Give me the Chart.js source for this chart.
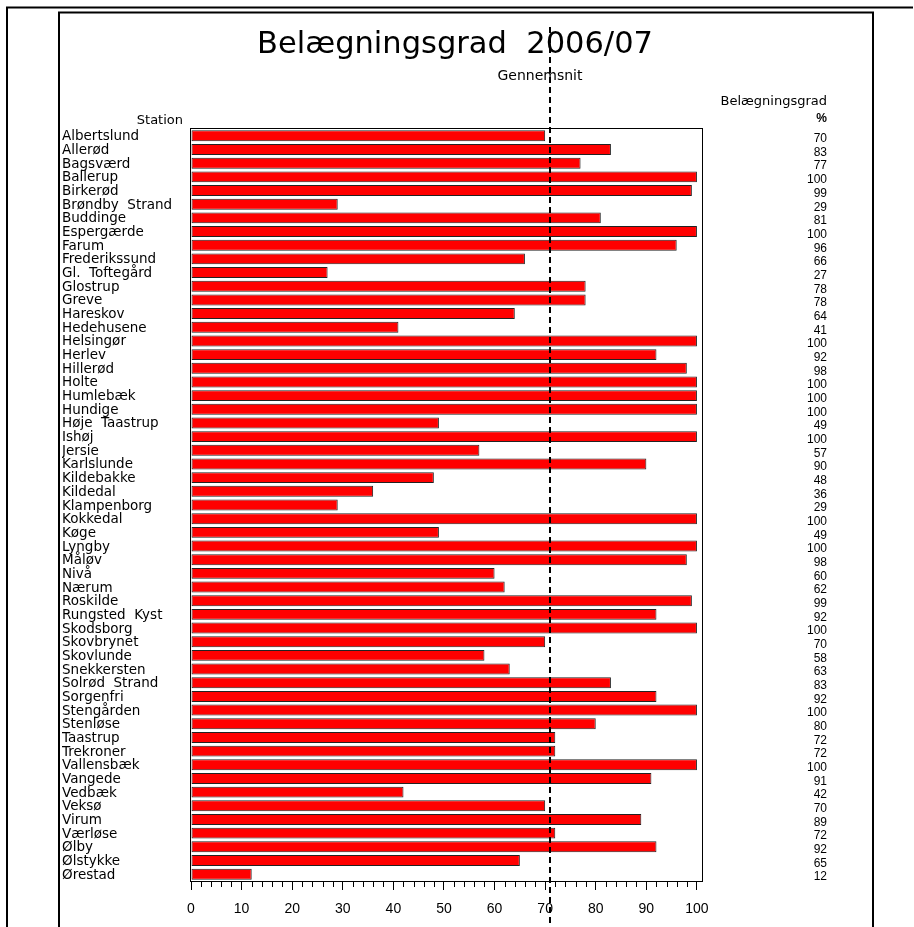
<!DOCTYPE html>
<html>
<head>
<meta charset="utf-8">
<script src="https://cdn.jsdelivr.net/npm/chart.js@4.4.1/dist/chart.umd.min.js"></script>
<style>
  html, body { margin: 0; padding: 0; background: #fff; }
  #wrap { width: 914px; height: 927px; position: relative; }
</style>
</head>
<body>
<div id="wrap"><canvas id="graf" width="914" height="927"></canvas></div>
<script>
const stationer = [
  "Albertslund", "Allerød", "Bagsværd", "Ballerup", "Birkerød", "Brøndby  Strand", "Buddinge",
  "Espergærde", "Farum", "Frederikssund", "Gl.  Toftegård", "Glostrup", "Greve", "Hareskov",
  "Hedehusene", "Helsingør", "Herlev", "Hillerød", "Holte", "Humlebæk", "Hundige", "Høje  Taastrup",
  "Ishøj", "Jersie", "Karlslunde", "Kildebakke", "Kildedal", "Klampenborg", "Kokkedal", "Køge",
  "Lyngby", "Måløv", "Nivå", "Nærum", "Roskilde", "Rungsted  Kyst", "Skodsborg", "Skovbrynet",
  "Skovlunde", "Snekkersten", "Solrød  Strand", "Sorgenfri", "Stengården", "Stenløse", "Taastrup",
  "Trekroner", "Vallensbæk", "Vangede", "Vedbæk", "Veksø", "Virum", "Værløse", "Ølby", "Ølstykke",
  "Ørestad"
];
const belaegning = [
  70, 83, 77, 100, 99, 29, 81,
  100, 96, 66, 27, 78, 78, 64,
  41, 100, 92, 98, 100, 100, 100, 49,
  100, 57, 90, 48, 36, 29, 100, 49,
  100, 98, 60, 62, 99, 92, 100, 70,
  58, 63, 83, 92, 100, 80, 72,
  72, 100, 91, 42, 70, 89, 72, 92, 65,
  12
];
const xTicks = [0, 10, 20, 30, 40, 50, 60, 70, 80, 90, 100];
const xMinorTicks = [];
for (let v = 0; v < 100; v += 2) if (v % 10 !== 0) xMinorTicks.push(v);
const gennemsnit = 71;

const FONT = "'DejaVu Sans', sans-serif";

// rammer, tekster, gennemsnitslinje og små ticks
const pynt = {
  id: "pynt",
  beforeDraw(chart) {
    const ctx = chart.ctx;
    ctx.save();
    ctx.fillStyle = "#fff";
    ctx.fillRect(0, 0, chart.width, chart.height);
    ctx.restore();
  },
  afterDraw(chart) {
    const ctx = chart.ctx;
    const a = chart.chartArea;
    const x = chart.scales.x;
    ctx.save();

    // ydre og indre ramme
    ctx.strokeStyle = "#000";
    ctx.lineWidth = 2;
    ctx.beginPath();
    ctx.moveTo(7, 927); ctx.lineTo(7, 7.5); ctx.lineTo(913, 7.5);
    ctx.moveTo(59, 927); ctx.lineTo(59, 12.5); ctx.lineTo(873, 12.5); ctx.lineTo(873, 927);
    ctx.stroke();

    // plotboks
    ctx.lineWidth = 1;
    ctx.strokeStyle = "#000";
    ctx.strokeRect(a.left - 0.5, a.top - 0.5, a.right - a.left + 1, a.bottom - a.top + 1);

    // små ticks
    ctx.beginPath();
    xMinorTicks.forEach((v) => {
      const px = Math.round(x.getPixelForValue(v)) + 0.5;
      ctx.moveTo(px, a.bottom);
      ctx.lineTo(px, a.bottom + 6);
    });
    ctx.stroke();

    // gennemsnit
    const gx = Math.round(x.getPixelForValue(gennemsnit));
    ctx.lineWidth = 2;
    ctx.setLineDash([6, 4]);
    ctx.beginPath();
    ctx.moveTo(gx, 27);
    ctx.lineTo(gx, 927);
    ctx.stroke();
    ctx.setLineDash([]);

    // tekster
    ctx.fillStyle = "#000";
    ctx.textBaseline = "alphabetic";
    ctx.textAlign = "center";
    ctx.font = "30.5px " + FONT;
    ctx.fillText("Belægningsgrad  2006/07", 455, 53);
    ctx.font = "14px " + FONT;
    ctx.fillText("Gennemsnit", 540, 80);
    ctx.textAlign = "right";
    ctx.font = "13px " + FONT;
    ctx.fillText("Belægningsgrad", 827, 105);
    ctx.fillText("Station", 183, 124);
    ctx.font = "bold 12px 'Liberation Sans', sans-serif";
    ctx.fillText("%", 827, 122);
    ctx.restore();
  }
};

new Chart(document.getElementById("graf"), {
  type: "bar",
  data: {
    labels: stationer,
    datasets: [{
      data: belaegning,
      backgroundColor: "#ff0000",
      borderColor: "#222",
      borderWidth: 1,
      borderSkipped: false,
      barPercentage: 0.8,
      categoryPercentage: 1,
    }],
  },
  options: {
    indexAxis: "y",
    responsive: false,
    animation: false,
    events: [],
    layout: { padding: { top: 129, left: 62, right: 87, bottom: 0 } },
    plugins: { legend: { display: false }, tooltip: { enabled: false } },
    scales: {
      x: {
        type: "linear",
        min: 0,
        max: 101,
        afterBuildTicks: (axis) => { axis.ticks = xTicks.map((v) => ({ value: v })); },
        afterFit: (axis) => { axis.height = 46; },
        grid: { drawOnChartArea: false, color: "#000", tickLength: 9 },
        border: { display: true, color: "#000" },
        ticks: {
          color: "#000",
          padding: 11,
          maxRotation: 0,
          font: { family: "'Liberation Sans', sans-serif", size: 14 },
        },
      },
      y: {
        position: "left",
        offset: true,
        afterFit: (axis) => { axis.width = 129; },
        grid: { display: false },
        border: { display: false },
        ticks: {
          color: "#000",
          crossAlign: "far",
          autoSkip: false,
          labelOffset: 1,
          font: { family: FONT, size: 13.5 },
        },
      },
      y2: {
        type: "category",
        position: "right",
        offset: true,
        labels: belaegning.map(String),
        afterFit: (axis) => { axis.width = 125; },
        grid: { display: false },
        border: { display: false },
        ticks: {
          color: "#000",
          crossAlign: "far",
          autoSkip: false,
          labelOffset: 3,
          font: { family: "'Liberation Sans', sans-serif", size: 12 },
        },
      },
    },
  },
  plugins: [pynt],
});
</script>
</body>
</html>
